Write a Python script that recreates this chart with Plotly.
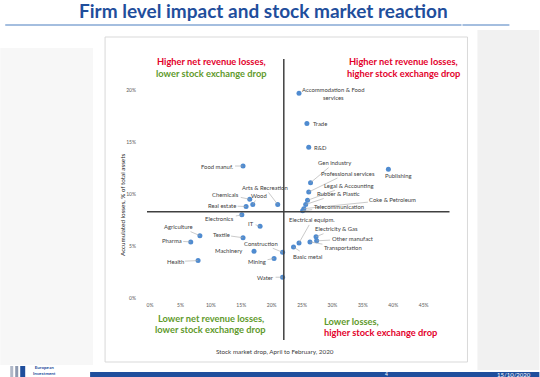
import plotly.graph_objects as go

# ---- data ----
sectors = [
    "Accommodation & Food<br>services", "Trade", "R&D", "Publishing", "Gen industry",
    "Professional services", "Legal & Accounting", "Rubber & Plastic", "Coke & Petroleum",
    "Telecommunication", "Electrical equipm.", "Electricity & Gas", "Other manufact",
    "Transportation", "Basic metal", "Food manuf.", "Arts & Recreation", "Chemicals", "Wood",
    "Real estate", "Electronics", "IT", "Agriculture", "Textile", "Pharma", "Construction",
    "Machinery", "Mining", "Health", "Water",
]
stock_drop = [24.5, 25.8, 26.1, 39.2, 26.4, 26.1, 25.9, 25.6, 25.3, 25.1, 24.5, 27.3, 27.4,
              26.3, 23.6, 15.3, 21.0, 16.4, 16.9, 15.8, 15.1, 18.1, 8.2, 15.3, 6.7, 21.8,
              17.1, 20.4, 7.9, 21.8]
losses = [19.7, 16.8, 14.5, 12.4, 11.1, 10.2, 9.4, 9.0, 8.6, 8.4, 5.3, 5.9, 5.5, 5.4, 4.9,
          12.7, 9.0, 9.5, 9.0, 8.8, 8.0, 6.9, 6.0, 5.8, 5.4, 4.4, 4.5, 3.8, 3.6, 2.0]
x_ticks = [0, 5, 10, 15, 20, 25, 30, 35, 40, 45]
y_ticks = [0, 5, 10, 15, 20]
x_split = 22.0
y_split = 8.3

# ---- label placement (pixel offsets from each point) and leader flags ----
label_offsets = [(34, 0), (13, 0), (12, 0), (10, 6), (24, -20), (39, -19), (41, -15),
                 (33, -11), (89, -9), (36, -4), (13, -23), (20, -8), (36, -2), (33, 6),
                 (14, 9), (-26, 0), (-13, -17), (-24, -5), (6, -9), (-24, -1), (-22, 4),
                 (-9, -3), (-21, -9), (-22, -3), (-19, -1), (-22, -9), (-26, -1), (-17, 3),
                 (-23, 1), (-17, 0)]
leaders = [False, False, False, False] + [True] * 22 + [False, True, True, True]

W, H = 540, 377
ML, MR, MT, MB = 147, 88.5, 59, 79
PW, PH = W - ML - MR, H - MT - MB


def px(xp):
    return (xp - ML) / PW


def py(yp):
    return (H - MB - yp) / PH


DARK = "#404040"
RED = "#E3002B"
GREEN = "#5F9A2C"
BLUE = "#1F4E9C"
FONT = "Lato"

fig = go.Figure()
fig.add_trace(go.Scatter(
    x=stock_drop, y=losses, mode="markers",
    marker=dict(color="#4F8BD0", size=5),
    hoverinfo="text", text=sectors, showlegend=False,
))

shapes = []
# slide background panels
shapes.append(dict(type="rect", xref="paper", yref="paper", x0=px(0), x1=px(93), y0=py(365), y1=py(48),
                   fillcolor="#F7F7F7", line=dict(width=0), layer="below"))
shapes.append(dict(type="rect", xref="paper", yref="paper", x0=px(478), x1=px(540), y0=py(370), y1=py(30),
                   fillcolor="#F1F1F1", line=dict(width=0), layer="below"))
# chart box
shapes.append(dict(type="rect", xref="paper", yref="paper", x0=px(105), x1=px(468), y0=py(362), y1=py(37),
                   fillcolor="white", line=dict(color="#D9D9D9", width=1), layer="below"))
# title underline
shapes.append(dict(type="line", xref="paper", yref="paper", x0=px(5), x1=px(462), y0=py(25), y1=py(25),
                   line=dict(color="#4A7EC0", width=1.2)))
shapes.append(dict(type="line", xref="paper", yref="paper", x0=px(463), x1=px(510), y0=py(25), y1=py(25),
                   line=dict(color="#4A7EC0", width=1.2)))
# bottom bar
shapes.append(dict(type="rect", xref="paper", yref="paper", x0=px(90), x1=px(540), y0=py(377), y1=py(372),
                   fillcolor=BLUE, line=dict(width=0)))
# logo bars
for x0, x1, c in [(10, 13, "#B0B8C8"), (15, 18, "#8D99B0"), (20, 25, BLUE)]:
    shapes.append(dict(type="rect", xref="paper", yref="paper", x0=px(x0), x1=px(x1), y0=py(377), y1=py(366),
                       fillcolor=c, line=dict(width=0)))
# quadrant lines
shapes.append(dict(type="line", xref="x", yref="paper", x0=x_split, x1=x_split, y0=py(340), y1=py(59),
                   line=dict(color=DARK, width=1.5)))
shapes.append(dict(type="line", xref="paper", yref="y", x0=px(147), x1=px(450), y0=y_split, y1=y_split,
                   line=dict(color=DARK, width=1.5)))

annotations = []
for name, xv, yv, (ax, ay), ld in zip(sectors, stock_drop, losses, label_offsets, leaders):
    annotations.append(dict(
        x=xv, y=yv, xref="x", yref="y", text=name, showarrow=True,
        ax=ax, ay=ay, arrowhead=0, arrowwidth=0.6,
        arrowcolor="#A6A6A6" if ld else "rgba(0,0,0,0)",
        font=dict(family=FONT, size=5.9, color=DARK), align="center",
    ))


def ptext(xp, yp, text, size, color, bold=False, xanchor="center", family=FONT, angle=0):
    annotations.append(dict(
        x=px(xp), y=py(yp), xref="paper", yref="paper", showarrow=False,
        text=f"<b>{text}</b>" if bold else text, xanchor=xanchor, yanchor="middle",
        font=dict(family=family, size=size, color=color), textangle=angle,
    ))


ptext(264, 11, "Firm level impact and stock market reaction", 19, BLUE, bold=True)
ptext(212, 62, "Higher net revenue losses,", 9.3, RED, bold=True)
ptext(212, 73, "lower stock exchange drop", 9.3, GREEN, bold=True)
ptext(404, 62, "Higher net revenue losses,", 9.3, RED, bold=True)
ptext(404, 73, "higher stock exchange drop", 9.3, RED, bold=True)
ptext(211, 318, "Lower net revenue losses,", 9.3, GREEN, bold=True)
ptext(211, 329, "lower stock exchange drop", 9.3, GREEN, bold=True)
ptext(322, 321, "Lower losses,", 9.3, GREEN, bold=True, xanchor="left")
ptext(322, 332, "higher stock exchange drop", 9.3, RED, bold=True, xanchor="left")
ptext(275, 351, "Stock market drop, April to February, 2020", 6.3, DARK)
ptext(123, 205, "Accumulated losses, % of total assets", 6.3, "#202020", angle=-90)
ptext(31, 370, "<b>European</b><br><b>Investment</b>", 4.5, BLUE, xanchor="left")
ptext(387, 374, "4", 5, "white")
ptext(515, 374, "15/10/2020", 6, "white")

fig.update_layout(
    width=W, height=H,
    margin=dict(l=ML, r=MR, t=MT, b=MB),
    paper_bgcolor="white", plot_bgcolor="rgba(0,0,0,0)",
    shapes=shapes, annotations=annotations,
    xaxis=dict(range=[-0.5, 49.5], tickvals=x_ticks, ticktext=[f"{v}%" for v in x_ticks],
               showgrid=False, zeroline=False, showline=False, ticks="",
               tickfont=dict(family=FONT, size=5, color="#595959"), ticklabelstandoff=3),
    yaxis=dict(range=[0, 23], tickvals=y_ticks, ticktext=[f"{v}%" for v in y_ticks],
               showgrid=False, zeroline=False, showline=False, ticks="",
               tickfont=dict(family=FONT, size=5, color="#595959"), ticklabelstandoff=10),
    font=dict(family=FONT),
)

fig.write_html(
    "out.html",
    config=dict(displayModeBar=False),
    post_script="document.body.style.margin='0';document.body.style.overflow='hidden';",
)
